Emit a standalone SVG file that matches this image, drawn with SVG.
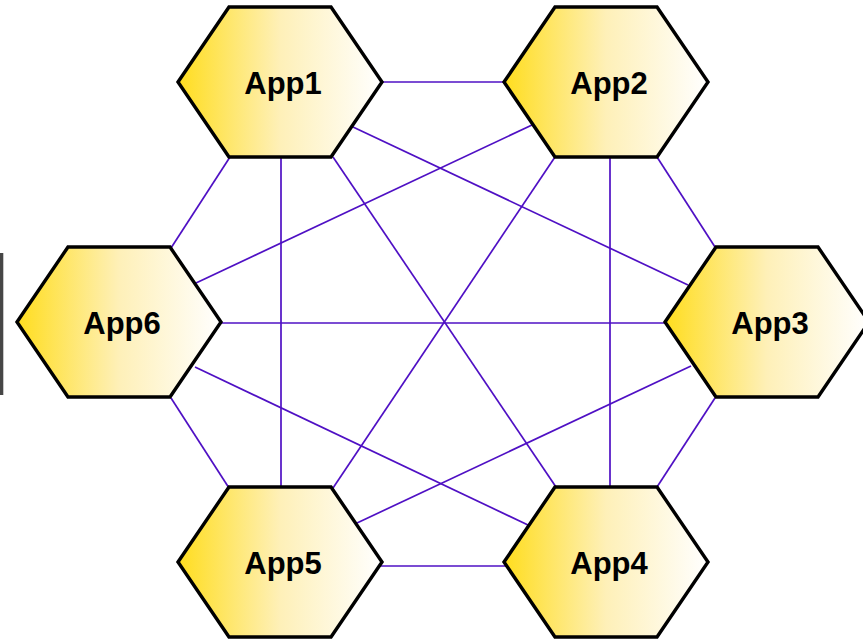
<svg xmlns="http://www.w3.org/2000/svg" width="863" height="641" viewBox="0 0 863 641">
  <defs>
    <linearGradient id="hexFill" x1="0" y1="0" x2="1" y2="0">
      <stop offset="0" stop-color="#FFDD1E"/>
      <stop offset="0.5" stop-color="#FEF0B8"/>
      <stop offset="1" stop-color="#FFFFFF"/>
    </linearGradient>
    <polygon id="hex" points="-102,0 -51,-75 51,-75 102,0 51,75 -51,75"/>
  </defs>
  <style>
    .link { stroke: #4F10C4; stroke-width: 1.7; fill: none; }
    .hex { fill: url(#hexFill); stroke: #000000; stroke-width: 3.4; stroke-linejoin: miter; }
    .label { font-family: "Liberation Sans", Arial, sans-serif; font-weight: bold; font-size: 31px; fill: #000000; text-anchor: middle; }
  </style>

  <rect width="863" height="641" fill="#FFFFFF"/>
  <!-- side bar at the left edge -->
  <rect x="0" y="253" width="3.3" height="142" fill="#464646"/>

  <g id="connectors">
    <line class="link" x1="380" y1="82" x2="506" y2="82"/>
    <line class="link" x1="230" y1="157" x2="171" y2="248"/>
    <line class="link" x1="281" y1="157" x2="281" y2="488"/>
    <line class="link" x1="333" y1="157" x2="556" y2="487"/>
    <line class="link" x1="353" y1="127" x2="688" y2="285"/>
    <line class="link" x1="532" y1="125" x2="196" y2="283"/>
    <line class="link" x1="555" y1="157" x2="333" y2="488"/>
    <line class="link" x1="610" y1="157" x2="610" y2="488"/>
    <line class="link" x1="657" y1="157" x2="715" y2="247"/>
    <line class="link" x1="219" y1="323" x2="667" y2="323"/>
    <line class="link" x1="171" y1="398" x2="229" y2="488"/>
    <line class="link" x1="195" y1="367" x2="528" y2="525"/>
    <line class="link" x1="691" y1="366" x2="357" y2="523"/>
    <line class="link" x1="715" y1="398" x2="657" y2="487"/>
    <line class="link" x1="380" y1="566" x2="506" y2="566"/>
  </g>

  <g id="app1" transform="translate(280,82)">
    <use href="#hex" class="hex"/>
    <text class="label" x="3" y="11.5">App1</text>
  </g>
  <g id="app2" transform="translate(606,82)">
    <use href="#hex" class="hex"/>
    <text class="label" x="3" y="11.5">App2</text>
  </g>
  <g id="app3" transform="translate(767,322)">
    <use href="#hex" class="hex"/>
    <text class="label" x="3" y="11.5">App3</text>
  </g>
  <g id="app4" transform="translate(606,562)">
    <use href="#hex" class="hex"/>
    <text class="label" x="3" y="11.5">App4</text>
  </g>
  <g id="app5" transform="translate(280,562)">
    <use href="#hex" class="hex"/>
    <text class="label" x="3" y="11.5">App5</text>
  </g>
  <g id="app6" transform="translate(119,322)">
    <use href="#hex" class="hex"/>
    <text class="label" x="3" y="11.5">App6</text>
  </g>
</svg>
